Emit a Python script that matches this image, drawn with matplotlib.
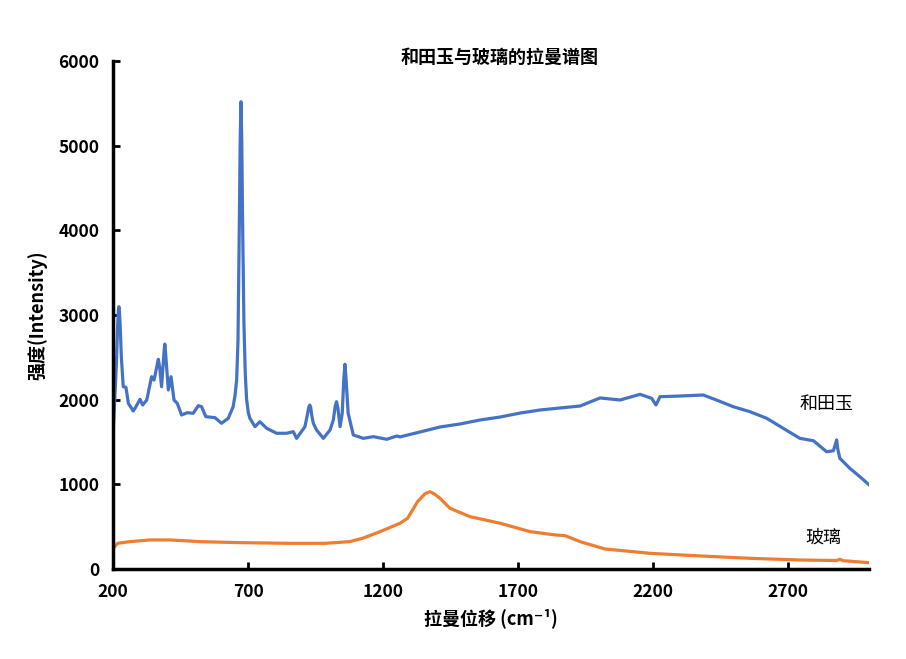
import matplotlib.pyplot as plt

plt.rcParams['font.family'] = ['Noto Sans CJK SC', 'DejaVu Sans']

# 和田玉 spectrum (Raman shift cm-1, intensity)
jade_x = [200, 206, 212, 216, 219, 221, 223, 226, 230, 237, 247, 256, 274, 284, 299,
          309, 324, 342, 351, 362, 367, 372, 379, 388, 391, 395, 404, 414, 425, 437,
          453, 474, 496, 515, 527, 543, 577, 601, 626, 644, 651, 657, 662, 667, 670,
          673, 676, 679, 684, 689, 694, 700, 706, 725, 743, 768, 805, 842, 867, 879,
          910, 920, 925, 928, 931, 936, 941, 953, 978, 1003, 1015, 1022, 1027, 1032,
          1040, 1048, 1054, 1058, 1062, 1070, 1089, 1126, 1163, 1213, 1250, 1262,
          1336, 1410, 1485, 1559, 1633, 1707, 1781, 1855, 1929, 1984, 2003, 2077,
          2151, 2194, 2210, 2225, 2299, 2385, 2434, 2496, 2558, 2620, 2681, 2743,
          2793, 2842, 2867, 2875, 2879, 2883, 2891, 2928, 2965, 3000]
jade_y = [1642, 2035, 2450, 2850, 3060, 3098, 3040, 2850, 2500, 2153, 2146, 1957, 1866,
          1917, 2004, 1937, 1996, 2271, 2232, 2400, 2477, 2380, 2153, 2560, 2657, 2500,
          2114, 2271, 1996, 1957, 1819, 1846, 1839, 1929, 1917, 1799, 1787, 1721, 1780,
          1917, 2050, 2232, 2700, 4100, 5050, 5519, 5050, 4100, 2900, 2300, 2000, 1850,
          1780, 1681, 1740, 1662, 1603, 1603, 1622, 1543, 1681, 1840, 1920, 1937, 1910,
          1800, 1721, 1642, 1543, 1642, 1760, 1920, 1976, 1900, 1681, 1839, 2250, 2418,
          2250, 1839, 1583, 1543, 1563, 1532, 1571, 1560, 1618, 1677, 1713, 1760, 1795,
          1842, 1878, 1902, 1925, 1996, 2020, 1996, 2063, 2016, 1937, 2035, 2043, 2055,
          1996, 1917, 1858, 1780, 1662, 1543, 1515, 1385, 1397, 1480, 1524, 1420, 1307,
          1189, 1090, 992]

# 玻璃 spectrum
glass_x = [200, 216, 262, 336, 410, 521, 669, 854, 984, 1076, 1123, 1188, 1262, 1290,
           1327, 1355, 1373, 1390, 1410, 1447, 1521, 1633, 1744, 1836, 1873, 1929,
           2021, 2188, 2373, 2558, 2743, 2880, 2891, 2902, 3000]
glass_y = [245, 303, 323, 343, 343, 323, 311, 303, 303, 323, 362, 441, 540, 599,
           795, 890, 913, 885, 835, 717, 618, 540, 441, 402, 394, 323, 236, 185, 154,
           126, 106, 100, 115, 98, 74]

x_ticks = [200, 700, 1200, 1700, 2200, 2700]
y_ticks = [0, 1000, 2000, 3000, 4000, 5000, 6000]

fig = plt.figure(figsize=(9.06, 6.59), dpi=100)
ax = fig.add_axes([0.125, 0.1366, 0.8345, 0.7708])

ax.plot(jade_x, jade_y, color='#4472C4', linewidth=2.3, solid_joinstyle='round')
ax.plot(glass_x, glass_y, color='#ED7D31', linewidth=2.3, solid_joinstyle='round')

ax.set_xlim(200, 3000)
ax.set_ylim(0, 6000)
ax.set_xticks(x_ticks)
ax.set_yticks(y_ticks)
ax.tick_params(direction='in', length=5, width=2, labelsize=12.5, pad=10)
for lab in ax.get_xticklabels() + ax.get_yticklabels():
    lab.set_fontweight('bold')

for s in ['top', 'right']:
    ax.spines[s].set_visible(False)
for s in ['left', 'bottom']:
    ax.spines[s].set_linewidth(2.5)

ax.set_xlabel('拉曼位移 (cm⁻¹)', fontsize=13, fontweight='bold', labelpad=5)
ax.set_ylabel('强度(Intensity)', fontsize=13, fontweight='bold', labelpad=8)

ax.text(2840, 1949, '和田玉', fontsize=13, ha='center', va='center')
ax.text(2829, 366, '玻璃', fontsize=13, ha='center', va='center')

fig.text(500 / 906, 1 - 57 / 659, '和田玉与玻璃的拉曼谱图', fontsize=13,
         fontweight='bold', ha='center', va='center')

fig.savefig('out.png', dpi=100)
